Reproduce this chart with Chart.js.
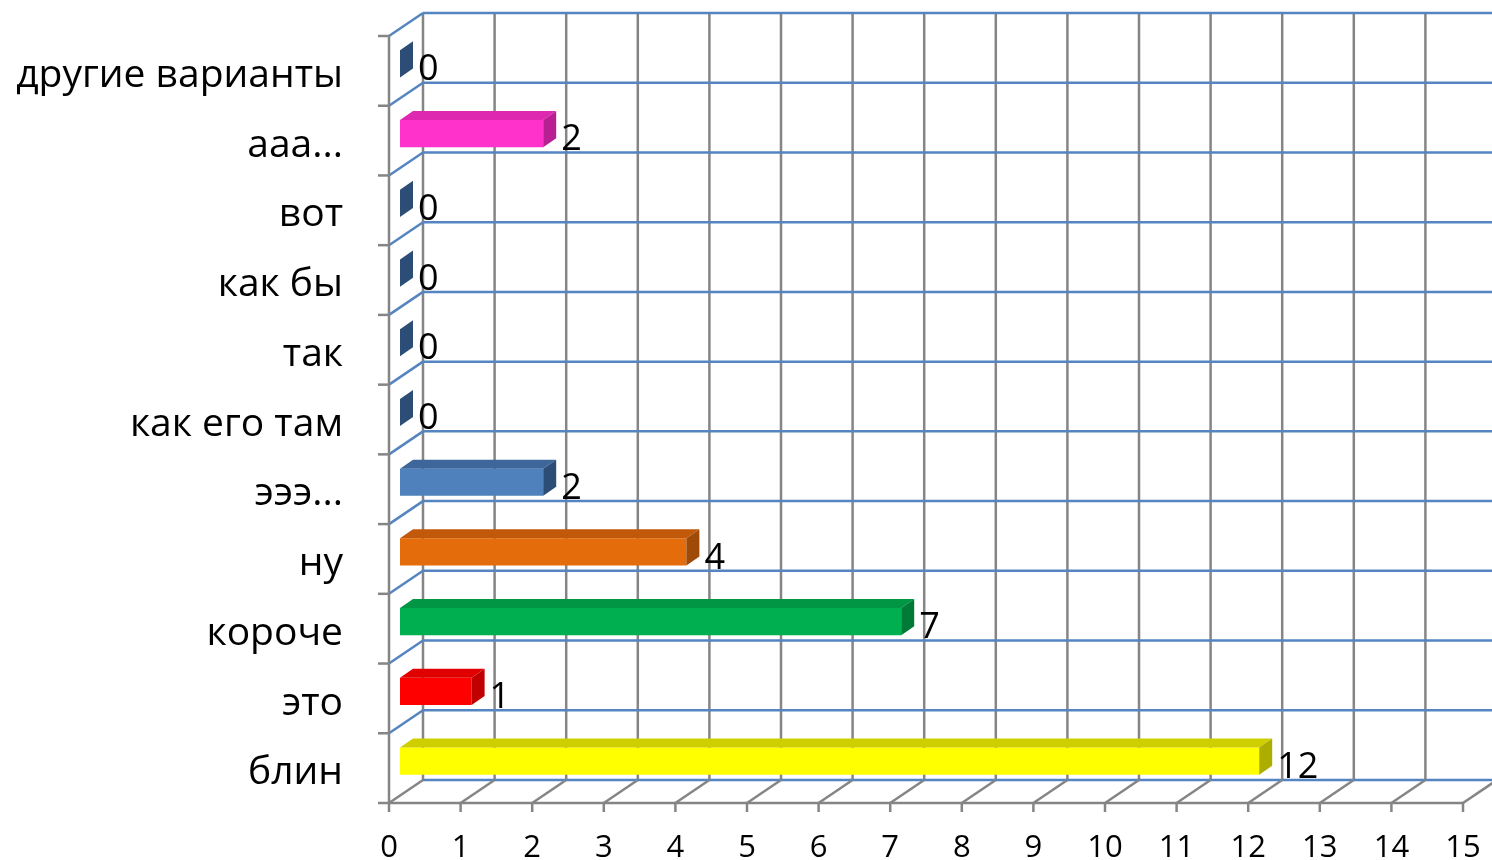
<!DOCTYPE html>
<html>
<head>
<meta charset="utf-8">
<script src="https://cdn.jsdelivr.net/npm/chart.js@4/dist/chart.umd.min.js"></script>
<style>
  html, body { margin: 0; padding: 0; background: #ffffff; }
  #wrap { width: 1492px; height: 860px; }
</style>
</head>
<body>
<div id="wrap"><canvas id="c" width="1492" height="860"></canvas></div>
<script>
// ---- data (top to bottom as shown) ----
const categories = ["другие варианты", "ааа...", "вот", "как бы", "так", "как его там", "эээ...", "ну", "короче", "это", "блин"];
const values = [0, 2, 0, 0, 0, 0, 2, 4, 7, 1, 12];
const xTicksMin = 0;
const xTicksMax = 15;

// ---- colours ----
const frontColors = ["#4f81bd", "#ff33cc", "#4f81bd", "#4f81bd", "#4f81bd", "#4f81bd", "#4f81bd", "#e46c0a", "#00b050", "#ff0000", "#ffff00"];
const topColors   = ["#3d679b", "#de28b0", "#3d679b", "#3d679b", "#3d679b", "#3d679b", "#3d679b", "#c2590a", "#009644", "#e00000", "#cfcf00"];
const sideColors  = ["#2c4d75", "#b81f92", "#2c4d75", "#2c4d75", "#2c4d75", "#2c4d75", "#2c4d75", "#a04a08", "#007a37", "#c00000", "#adad00"];

const FONT = "'Open Sans', 'DejaVu Sans', sans-serif";
const GRAY = "#858585";
const BLUE = "#5585c0";
const DX = 34, DY = -23;          // wall depth
const FX = 11, FY = -7;           // bar front face offset
const SX = 13, SY = -9;           // bar depth

function line(ctx, x1, y1, x2, y2, color) {
  ctx.strokeStyle = color;
  ctx.lineWidth = 2.5;
  ctx.beginPath();
  ctx.moveTo(x1, y1);
  ctx.lineTo(x2, y2);
  ctx.stroke();
}
function poly(ctx, pts, color) {
  ctx.fillStyle = color;
  ctx.beginPath();
  ctx.moveTo(pts[0][0], pts[0][1]);
  for (let i = 1; i < pts.length; i++) ctx.lineTo(pts[i][0], pts[i][1]);
  ctx.closePath();
  ctx.fill();
}
function noPad(scale) {
  scale.paddingLeft = 0; scale.paddingRight = 0;
  scale.paddingTop = 0; scale.paddingBottom = 0;
}

const frame3d = {
  id: 'frame3d',
  beforeDatasetsDraw(chart) {
    const ctx = chart.ctx, xs = chart.scales.x, ys = chart.scales.y, ca = chart.chartArea;
    const n = categories.length;
    const half = (ys.getPixelForValue(1) - ys.getPixelForValue(0)) / 2;
    const bounds = [];
    for (let i = 0; i < n; i++) bounds.push(ys.getPixelForValue(i) - half);
    bounds.push(ys.getPixelForValue(n - 1) + half);
    const x0 = xs.getPixelForValue(xTicksMin), x1 = xs.getPixelForValue(xTicksMax);
    ctx.save();
    for (let v = xTicksMin; v <= xTicksMax; v++) {
      const x = xs.getPixelForValue(v) + DX;
      line(ctx, x, ca.top + DY, x, ca.bottom + DY, GRAY);
    }
    bounds.forEach(b => line(ctx, x0 + DX, b + DY, x1 + DX, b + DY, BLUE));
    bounds.forEach((b, i) => {
      if (i < bounds.length - 1) line(ctx, x0, b, x0 + DX, b + DY, BLUE);
    });
    for (let v = xTicksMin; v <= xTicksMax; v++) {
      const x = xs.getPixelForValue(v);
      line(ctx, x, ca.bottom, x + DX, ca.bottom + DY, GRAY);
      line(ctx, x, ca.bottom, x, ca.bottom + 9, GRAY);
    }
    line(ctx, x0 - 1, ca.bottom, x1 + 1, ca.bottom, GRAY);
    line(ctx, x0, ca.top - 1, x0, ca.bottom + 1, GRAY);
    bounds.forEach(b => line(ctx, x0 - 11, b, x0, b, GRAY));
    ctx.restore();
  },
  beforeDatasetDraw() { return false; },
  afterDatasetsDraw(chart) {
    const ctx = chart.ctx;
    const meta = chart.getDatasetMeta(0);
    ctx.save();
    meta.data.forEach((el, i) => {
      const p = el.getProps(['x', 'y', 'base', 'height'], true);
      const xa = p.base + FX, xb = p.x + FX;
      const yt = p.y - p.height / 2 + FY, yb = p.y + p.height / 2 + FY;
      if (xb > xa) {
        poly(ctx, [[xa, yt], [xb, yt], [xb, yb], [xa, yb]], frontColors[i]);
        poly(ctx, [[xa, yt], [xb, yt], [xb + SX, yt + SY], [xa + SX, yt + SY]], topColors[i]);
      }
      poly(ctx, [[xb, yt], [xb + SX, yt + SY], [xb + SX, yb + SY], [xb, yb]], sideColors[i]);
      ctx.fillStyle = "#000";
      ctx.font = "36px " + FONT;
      ctx.textAlign = "left";
      ctx.textBaseline = "alphabetic";
      ctx.fillText(String(values[i]), xb + SX + 5, yb + 3);
    });
    ctx.restore();
  }
};

new Chart(document.getElementById('c'), {
  type: 'bar',
  data: {
    labels: categories,
    datasets: [{
      data: values,
      backgroundColor: frontColors,
      categoryPercentage: 1,
      barPercentage: 0.39
    }]
  },
  options: {
    indexAxis: 'y',
    responsive: false,
    animation: false,
    devicePixelRatio: 1,
    layout: { padding: { top: 36, right: 29, left: 0, bottom: 0 } },
    plugins: { legend: { display: false }, tooltip: { enabled: false } },
    scales: {
      x: {
        min: xTicksMin, max: xTicksMax,
        grid: { display: false, drawTicks: false },
        border: { display: false },
        ticks: { stepSize: 1, color: "#000", font: { family: FONT, size: 31 }, padding: 27, maxRotation: 0, autoSkip: false },
        afterFit(scale) { scale.height = 57; noPad(scale); }
      },
      y: {
        grid: { display: false, drawTicks: false },
        border: { display: false },
        ticks: { color: "#000", font: { family: FONT, size: 39 }, padding: 46, labelOffset: 5, autoSkip: false },
        afterFit(scale) { scale.width = 389; noPad(scale); }
      }
    }
  },
  plugins: [frame3d]
});
</script>
</body>
</html>
